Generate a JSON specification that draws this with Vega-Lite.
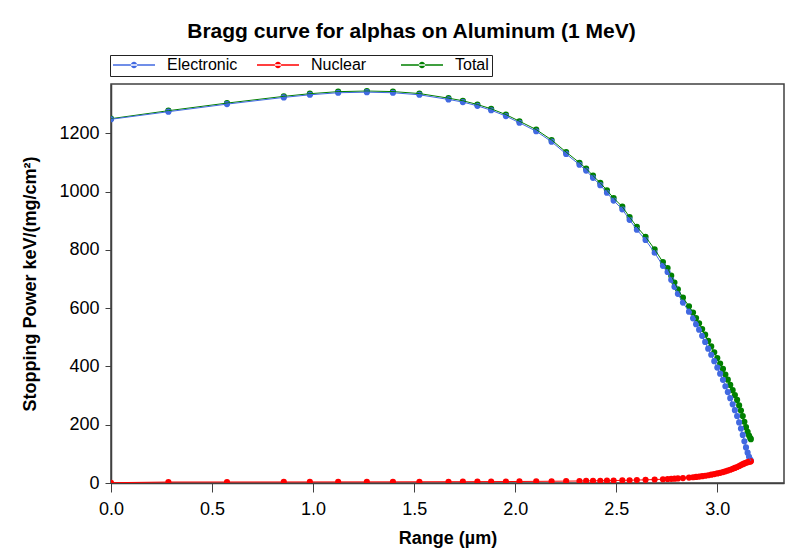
{
  "$schema": "https://vega.github.io/schema/vega-lite/v6.json",
  "autosize": "none",
  "width": 673,
  "height": 399,
  "padding": {"left": 111, "top": 84, "right": 18, "bottom": 75},
  "background": "white",
  "title": {
    "text": "Bragg curve for alphas on Aluminum (1 MeV)",
    "font": "Liberation Sans",
    "fontSize": 21,
    "fontWeight": "bold",
    "color": "black",
    "anchor": "middle",
    "frame": "group",
    "dx": -36,
    "offset": 13
  },
  "data": {
    "values": [
      {"r":0.000,"v":1250.0,"s":"Total"},{"r":0.284,"v":1277.4,"s":"Total"},{"r":0.574,"v":1303.5,"s":"Total"},{"r":0.855,"v":1326.6,"s":"Total"},{"r":0.984,"v":1335.7,"s":"Total"},{"r":1.124,"v":1342.8,"s":"Total"},{"r":1.266,"v":1344.9,"s":"Total"},{"r":1.395,"v":1343.0,"s":"Total"},{"r":1.526,"v":1336.2,"s":"Total"},{"r":1.670,"v":1320.4,"s":"Total"},{"r":1.741,"v":1311.5,"s":"Total"},{"r":1.813,"v":1298.7,"s":"Total"},{"r":1.881,"v":1283.8,"s":"Total"},{"r":1.954,"v":1264.0,"s":"Total"},{"r":2.021,"v":1241.3,"s":"Total"},{"r":2.104,"v":1212.6,"s":"Total"},{"r":2.180,"v":1177.0,"s":"Total"},{"r":2.252,"v":1135.4,"s":"Total"},{"r":2.318,"v":1098.9,"s":"Total"},{"r":2.351,"v":1079.2,"s":"Total"},{"r":2.385,"v":1054.5,"s":"Total"},{"r":2.421,"v":1029.8,"s":"Total"},{"r":2.454,"v":1004.1,"s":"Total"},{"r":2.487,"v":977.5,"s":"Total"},{"r":2.530,"v":948.0,"s":"Total"},{"r":2.566,"v":912.5,"s":"Total"},{"r":2.602,"v":879.1,"s":"Total"},{"r":2.645,"v":844.9,"s":"Total"},{"r":2.690,"v":801.9,"s":"Total"},{"r":2.731,"v":758.0,"s":"Total"},{"r":2.754,"v":737.7,"s":"Total"},{"r":2.772,"v":711.4,"s":"Total"},{"r":2.788,"v":688.0,"s":"Total"},{"r":2.805,"v":664.7,"s":"Total"},{"r":2.830,"v":635.9,"s":"Total"},{"r":2.860,"v":606.5,"s":"Total"},{"r":2.880,"v":584.8,"s":"Total"},{"r":2.895,"v":565.9,"s":"Total"},{"r":2.910,"v":548.1,"s":"Total"},{"r":2.925,"v":528.5,"s":"Total"},{"r":2.940,"v":509.0,"s":"Total"},{"r":2.955,"v":487.7,"s":"Total"},{"r":2.970,"v":468.6,"s":"Total"},{"r":2.985,"v":448.6,"s":"Total"},{"r":3.000,"v":428.8,"s":"Total"},{"r":3.014,"v":410.0,"s":"Total"},{"r":3.028,"v":391.5,"s":"Total"},{"r":3.040,"v":372.0,"s":"Total"},{"r":3.052,"v":354.6,"s":"Total"},{"r":3.064,"v":336.5,"s":"Total"},{"r":3.076,"v":318.6,"s":"Total"},{"r":3.087,"v":301.8,"s":"Total"},{"r":3.098,"v":285.0,"s":"Total"},{"r":3.108,"v":266.3,"s":"Total"},{"r":3.117,"v":248.5,"s":"Total"},{"r":3.126,"v":229.5,"s":"Total"},{"r":3.134,"v":210.2,"s":"Total"},{"r":3.142,"v":191.6,"s":"Total"},{"r":3.150,"v":175.5,"s":"Total"},{"r":3.157,"v":163.0,"s":"Total"},{"r":3.163,"v":154.0,"s":"Total"},{"r":3.166,"v":150.5,"s":"Total"},
      {"r":0.000,"v":1248,"s":"Electronic"},{"r":0.284,"v":1274,"s":"Electronic"},{"r":0.574,"v":1300,"s":"Electronic"},{"r":0.855,"v":1323,"s":"Electronic"},{"r":0.984,"v":1332,"s":"Electronic"},{"r":1.124,"v":1339,"s":"Electronic"},{"r":1.266,"v":1341,"s":"Electronic"},{"r":1.395,"v":1339,"s":"Electronic"},{"r":1.526,"v":1332,"s":"Electronic"},{"r":1.670,"v":1316,"s":"Electronic"},{"r":1.741,"v":1307,"s":"Electronic"},{"r":1.813,"v":1294,"s":"Electronic"},{"r":1.881,"v":1279,"s":"Electronic"},{"r":1.954,"v":1259,"s":"Electronic"},{"r":2.021,"v":1236,"s":"Electronic"},{"r":2.104,"v":1207,"s":"Electronic"},{"r":2.180,"v":1171,"s":"Electronic"},{"r":2.252,"v":1129,"s":"Electronic"},{"r":2.318,"v":1092,"s":"Electronic"},{"r":2.351,"v":1072,"s":"Electronic"},{"r":2.385,"v":1047,"s":"Electronic"},{"r":2.421,"v":1022,"s":"Electronic"},{"r":2.454,"v":996,"s":"Electronic"},{"r":2.487,"v":969,"s":"Electronic"},{"r":2.530,"v":939,"s":"Electronic"},{"r":2.566,"v":903,"s":"Electronic"},{"r":2.602,"v":869,"s":"Electronic"},{"r":2.645,"v":834,"s":"Electronic"},{"r":2.690,"v":790,"s":"Electronic"},{"r":2.731,"v":745,"s":"Electronic"},{"r":2.754,"v":724,"s":"Electronic"},{"r":2.772,"v":697,"s":"Electronic"},{"r":2.788,"v":673,"s":"Electronic"},{"r":2.805,"v":649,"s":"Electronic"},{"r":2.830,"v":619,"s":"Electronic"},{"r":2.860,"v":588,"s":"Electronic"},{"r":2.880,"v":565,"s":"Electronic"},{"r":2.895,"v":545,"s":"Electronic"},{"r":2.910,"v":526,"s":"Electronic"},{"r":2.925,"v":505,"s":"Electronic"},{"r":2.940,"v":484,"s":"Electronic"},{"r":2.955,"v":461,"s":"Electronic"},{"r":2.970,"v":440,"s":"Electronic"},{"r":2.985,"v":418,"s":"Electronic"},{"r":3.000,"v":396,"s":"Electronic"},{"r":3.014,"v":375,"s":"Electronic"},{"r":3.028,"v":354,"s":"Electronic"},{"r":3.040,"v":332,"s":"Electronic"},{"r":3.052,"v":312,"s":"Electronic"},{"r":3.064,"v":291,"s":"Electronic"},{"r":3.076,"v":270,"s":"Electronic"},{"r":3.087,"v":250,"s":"Electronic"},{"r":3.098,"v":230,"s":"Electronic"},{"r":3.108,"v":208,"s":"Electronic"},{"r":3.117,"v":187,"s":"Electronic"},{"r":3.126,"v":165,"s":"Electronic"},{"r":3.134,"v":143,"s":"Electronic"},{"r":3.142,"v":122,"s":"Electronic"},{"r":3.150,"v":104,"s":"Electronic"},{"r":3.157,"v":90,"s":"Electronic"},{"r":3.163,"v":80,"s":"Electronic"},{"r":3.166,"v":76,"s":"Electronic"},
      {"r":0.000,"v":1.0,"s":"Nuclear"},{"r":0.284,"v":3.4,"s":"Nuclear"},{"r":0.574,"v":3.5,"s":"Nuclear"},{"r":0.855,"v":3.6,"s":"Nuclear"},{"r":0.984,"v":3.7,"s":"Nuclear"},{"r":1.124,"v":3.8,"s":"Nuclear"},{"r":1.266,"v":3.9,"s":"Nuclear"},{"r":1.395,"v":4.0,"s":"Nuclear"},{"r":1.526,"v":4.2,"s":"Nuclear"},{"r":1.670,"v":4.4,"s":"Nuclear"},{"r":1.741,"v":4.5,"s":"Nuclear"},{"r":1.813,"v":4.7,"s":"Nuclear"},{"r":1.881,"v":4.8,"s":"Nuclear"},{"r":1.954,"v":5.0,"s":"Nuclear"},{"r":2.021,"v":5.3,"s":"Nuclear"},{"r":2.104,"v":5.6,"s":"Nuclear"},{"r":2.180,"v":6.0,"s":"Nuclear"},{"r":2.252,"v":6.4,"s":"Nuclear"},{"r":2.318,"v":6.9,"s":"Nuclear"},{"r":2.351,"v":7.2,"s":"Nuclear"},{"r":2.385,"v":7.5,"s":"Nuclear"},{"r":2.421,"v":7.8,"s":"Nuclear"},{"r":2.454,"v":8.1,"s":"Nuclear"},{"r":2.487,"v":8.5,"s":"Nuclear"},{"r":2.530,"v":9.0,"s":"Nuclear"},{"r":2.566,"v":9.5,"s":"Nuclear"},{"r":2.602,"v":10.1,"s":"Nuclear"},{"r":2.645,"v":10.9,"s":"Nuclear"},{"r":2.690,"v":11.9,"s":"Nuclear"},{"r":2.731,"v":13.0,"s":"Nuclear"},{"r":2.754,"v":13.7,"s":"Nuclear"},{"r":2.772,"v":14.4,"s":"Nuclear"},{"r":2.788,"v":15.0,"s":"Nuclear"},{"r":2.805,"v":15.7,"s":"Nuclear"},{"r":2.830,"v":16.9,"s":"Nuclear"},{"r":2.860,"v":18.5,"s":"Nuclear"},{"r":2.880,"v":19.8,"s":"Nuclear"},{"r":2.895,"v":20.9,"s":"Nuclear"},{"r":2.910,"v":22.1,"s":"Nuclear"},{"r":2.925,"v":23.5,"s":"Nuclear"},{"r":2.940,"v":25.0,"s":"Nuclear"},{"r":2.955,"v":26.7,"s":"Nuclear"},{"r":2.970,"v":28.6,"s":"Nuclear"},{"r":2.985,"v":30.6,"s":"Nuclear"},{"r":3.000,"v":32.8,"s":"Nuclear"},{"r":3.014,"v":35.0,"s":"Nuclear"},{"r":3.028,"v":37.5,"s":"Nuclear"},{"r":3.040,"v":40.0,"s":"Nuclear"},{"r":3.052,"v":42.6,"s":"Nuclear"},{"r":3.064,"v":45.5,"s":"Nuclear"},{"r":3.076,"v":48.6,"s":"Nuclear"},{"r":3.087,"v":51.8,"s":"Nuclear"},{"r":3.098,"v":55.0,"s":"Nuclear"},{"r":3.108,"v":58.3,"s":"Nuclear"},{"r":3.117,"v":61.5,"s":"Nuclear"},{"r":3.126,"v":64.5,"s":"Nuclear"},{"r":3.134,"v":67.2,"s":"Nuclear"},{"r":3.142,"v":69.6,"s":"Nuclear"},{"r":3.150,"v":71.5,"s":"Nuclear"},{"r":3.157,"v":73.0,"s":"Nuclear"},{"r":3.163,"v":74.0,"s":"Nuclear"},{"r":3.166,"v":74.5,"s":"Nuclear"}
    ]
  },
  "layer": [
    {
      "mark": {"type": "point", "filled": true, "size": 38, "opacity": 1, "clip": true},
      "encoding": {
        "x": {
          "field": "r", "type": "quantitative",
          "scale": {"domain": [0, 3.33], "nice": false, "zero": false},
          "axis": {
            "orient": "bottom",
            "values": [0, 0.5, 1, 1.5, 2, 2.5, 3],
            "format": ".1f",
            "grid": false,
            "tickSize": 9,
            "labelPadding": 8,
            "labelFlush": false,
            "title": "Range (µm)",
            "titlePadding": 11
          }
        },
        "y": {
          "field": "v", "type": "quantitative",
          "scale": {"domain": [0, 1369], "nice": false, "zero": false},
          "axis": {
            "orient": "left",
            "values": [0, 200, 400, 600, 800, 1000, 1200],
            "format": "d",
            "grid": false,
            "tickSize": 6,
            "labelPadding": 6,
            "labelFlush": false,
            "title": "Stopping Power keV/(mg/cm²)",
            "titlePadding": 19
          }
        },
        "color": {
          "field": "s", "type": "nominal",
          "scale": {"domain": ["Electronic", "Nuclear", "Total"], "range": ["#4169E1", "#FF0000", "#008000"]},
          "legend": {
            "title": null, "orient": "none", "legendX": -1, "legendY": -29, "direction": "horizontal",
            "symbolType": "M-1,-0.03L1,-0.03L1,0.03L-1,0.03ZM-0.15,0A0.15,0.15,0,1,0,0.15,0A0.15,0.15,0,1,0,-0.15,0Z",
            "symbolSize": 1764, "clipHeight": 14, "symbolStrokeWidth": 0,
            "labelOffset": 12, "columnPadding": 19, "gridAlign": "all", "padding": 3,
            "strokeColor": "#222", "fillColor": "white",
            "labelFont": "Liberation Sans", "labelFontSize": 16, "labelColor": "black"
          }
        }
      }
    },
    {
      "mark": {"type": "line", "strokeWidth": 1, "clip": true},
      "encoding": {
        "x": {"field": "r", "type": "quantitative"},
        "y": {"field": "v", "type": "quantitative"},
        "color": {
          "field": "s", "type": "nominal",
          "legend": {
            "title": null, "orient": "none", "legendX": -1, "legendY": -29, "direction": "horizontal",
            "symbolType": "M-1,-0.03L1,-0.03L1,0.03L-1,0.03ZM-0.15,0A0.15,0.15,0,1,0,0.15,0A0.15,0.15,0,1,0,-0.15,0Z",
            "symbolSize": 1764, "clipHeight": 14, "symbolStrokeWidth": 0,
            "labelOffset": 12, "columnPadding": 19, "gridAlign": "all", "padding": 3,
            "strokeColor": "#222", "fillColor": "white",
            "labelFont": "Liberation Sans", "labelFontSize": 16, "labelColor": "black"
          }
        },
        "order": {"field": "r", "type": "quantitative"}
      }
    }
  ],
  "config": {
    "view": {"stroke": "#404040", "strokeWidth": 1.5},
    "axis": {
      "domainColor": "#404040",
      "domainWidth": 1.5,
      "tickColor": "#404040",
      "labelFont": "Liberation Sans",
      "labelFontSize": 18,
      "labelColor": "black",
      "titleFont": "Liberation Sans",
      "titleFontSize": 18,
      "titleFontWeight": "bold",
      "titleColor": "black"
    }
  }
}
